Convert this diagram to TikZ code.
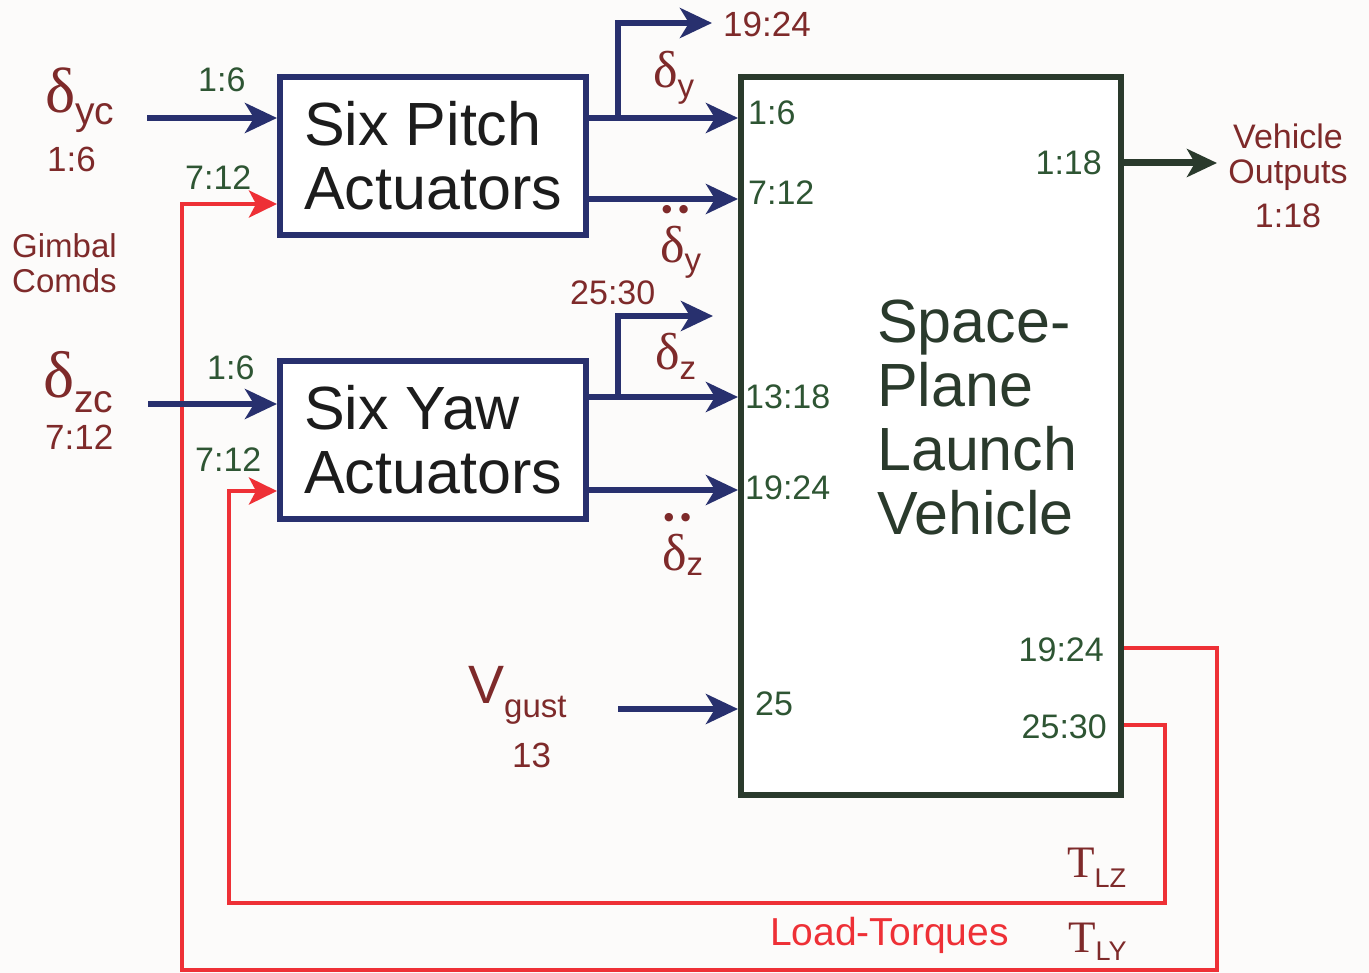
\documentclass[tikz,border=0pt]{standalone}
\usepackage{fontspec}
\setmainfont{Liberation Sans}
\newfontfamily\grk{Liberation Serif}
\newfontfamily\dvs{DejaVu Sans}
\usetikzlibrary{arrows.meta}
\definecolor{navy}{HTML}{28306E}
\definecolor{lred}{HTML}{EE3036}
\definecolor{brn}{HTML}{7E2A2A}
\definecolor{grn}{HTML}{2E5533}
\definecolor{vgrn}{HTML}{2A3A2C}
\definecolor{txtblk}{HTML}{1C1C1C}
\definecolor{bgc}{HTML}{FCFBFA}
\begin{document}
\begin{tikzpicture}[x=1pt,y=-1pt,
  actbox/.style={draw=navy,line width=6pt,fill=white,minimum width=306pt,minimum height=158pt,inner sep=0pt,align=left,text=txtblk,font=\fontsize{61}{64}\selectfont},
  vehbox/.style={draw=vgrn,line width=6pt,fill=white,minimum width=380pt,minimum height=718pt,inner sep=0pt},
  navyarr/.style={draw=navy,line width=6pt,-{Stealth[length=32pt,width=30pt,inset=9pt]}},
  redarr/.style={draw=lred,line width=4.5pt,-{Stealth[length=28pt,width=27pt,inset=7pt]}},
  outarr/.style={draw=vgrn,line width=7pt,-{Stealth[length=30pt,width=28pt,inset=8pt]}},
  lbl/.style={inner sep=0pt,anchor=base west},
  glbl/.style={lbl,text=grn,font=\fontsize{34}{38}\selectfont},
  gelbl/.style={inner sep=0pt,anchor=base east,text=grn,font=\fontsize{34}{38}\selectfont},
  blbl/.style={lbl,text=brn,font=\fontsize{35}{38}\selectfont},
]
\fill[bgc] (0,0) rectangle (1369,973);
\useasboundingbox (0,0) rectangle (1369,973);

% blocks
\node[vehbox] (veh) at (931,436) {};
\node[actbox] (pitch) at (433,156) {Six Pitch\\Actuators};
\node[actbox] (yaw) at (433,440) {Six Yaw\\Actuators};
\node[inner sep=0pt,anchor=west,align=left,text=vgrn,font=\fontsize{61}{64}\selectfont] (vtxt) at (877,418) {Space-\\Plane\\Launch\\Vehicle};

% coordinates
\coordinate (dycS) at (147,118);
\coordinate (dzcS) at (148,404);
\coordinate (bP) at (618,118);
\coordinate (tP) at (712,23);
\coordinate (bY) at (618,397);
\coordinate (tY) at (713,316);
\coordinate (vgS) at (618,709);
\coordinate (voT) at (1217,163);
\coordinate (oR) at (1217,970);
\coordinate (oL) at (182,970);
\coordinate (iR) at (1165,903);
\coordinate (iL) at (229,903);

% load torque feedback
\draw[redarr] (veh.east |- 0,648) -| (oR) -- (oL) |- (pitch.west |- 0,204);
\draw[redarr] (veh.east |- 0,725) -| (iR) -- (iL) |- (yaw.west |- 0,491);

% signal arrows
\draw[navyarr] (dycS) -- (dycS -| pitch.west);
\draw[navyarr] (dzcS) -- (dzcS -| yaw.west);
\draw[navyarr] (pitch.east |- bP) -- (bP -| veh.west);
\draw[navyarr] (bP) |- (tP);
\draw[navyarr] (pitch.east |- 0,199) -- (veh.west |- 0,199);
\draw[navyarr] (yaw.east |- bY) -- (bY -| veh.west);
\draw[navyarr] (bY) |- (tY);
\draw[navyarr] (yaw.east |- 0,490) -- (veh.west |- 0,490);
\draw[navyarr] (vgS) -- (vgS -| veh.west);
\draw[outarr] (veh.east |- voT) -- (voT);

% green port labels
\node[glbl] (l1) at (198,92) {1:6};
\node[glbl] (l2) at (185,190) {7:12};
\node[glbl] (l3) at (207,380) {1:6};
\node[glbl] (l4) at (195,472) {7:12};
\node[glbl] (v1) at (748,125) {1:6};
\node[glbl] (v2) at (748,205) {7:12};
\node[glbl] (v3) at (745,409) {13:18};
\node[glbl] (v4) at (745,500) {19:24};
\node[glbl] (v5) at (755,715) {25};
\node[gelbl] (o1) at (1102,175) {1:18};
\node[gelbl] (o2) at (1104,661) {19:24};
\node[gelbl] (o3) at (1107,738) {25:30};

% signal names
\node[lbl,text=brn] (dyc) at (45,113) {{\grk\fontsize{64}{64}\selectfont δ}\raisebox{-12pt}{\fontsize{39}{39}\selectfont yc}};
\node[blbl] (dycn) at (47,172) {1:6};
\node[lbl,text=brn] (dzc) at (43,398) {{\grk\fontsize{66}{66}\selectfont δ}\raisebox{-15pt}{\fontsize{39}{39}\selectfont zc}};
\node[blbl] (dzcn) at (45,450) {7:12};
\node[inner sep=0pt,anchor=west,align=left,text=brn,font=\fontsize{33}{35}\selectfont] (gim) at (12,263) {Gimbal\\Comds};

\node[lbl,text=brn] (dy) at (653,88) {{\grk\fontsize{52}{52}\selectfont δ}\raisebox{-10pt}{\fontsize{33}{33}\selectfont y}};
\node[lbl,text=brn] (ddy) at (660,263) {\rlap{\raisebox{50pt}{\hspace{2pt}\dvs\fontsize{11}{11}\selectfont ●\hspace{7pt}●}}{\grk\fontsize{52}{52}\selectfont δ}\raisebox{-9pt}{\fontsize{33}{33}\selectfont y}};
\node[lbl,text=brn] (dz) at (655,370) {{\grk\fontsize{52}{52}\selectfont δ}\raisebox{-10pt}{\fontsize{33}{33}\selectfont z}};
\node[lbl,text=brn] (ddz) at (662,570) {\rlap{\raisebox{50pt}{\hspace{2pt}\dvs\fontsize{11}{11}\selectfont ●\hspace{7pt}●}}{\grk\fontsize{52}{52}\selectfont δ}\raisebox{-5pt}{\fontsize{33}{33}\selectfont z}};
\node[blbl] (r1924) at (723,37) {19:24};
\node[blbl,font=\fontsize{34}{38}\selectfont] (r2530) at (570,305) {25:30};

\node[lbl,text=brn] (vgust) at (468,703) {{\fontsize{54}{54}\selectfont V}\raisebox{-14pt}{\fontsize{33}{33}\selectfont gust}};
\node[blbl] (v13) at (512,767) {13};

\node[inner sep=0pt,align=center,text=brn,font=\fontsize{34}{35}\selectfont] (vout) at (1288,176) {Vehicle\\Outputs\\[9pt]1:18};

\node[lbl,text=brn] (tlz) at (1067,877) {{\grk\fontsize{45}{45}\selectfont T}\raisebox{-10pt}{\fontsize{27}{27}\selectfont LZ}};
\node[lbl,text=brn] (tly) at (1068,952) {{\grk\fontsize{45}{45}\selectfont T}\raisebox{-8pt}{\fontsize{27}{27}\selectfont LY}};
\node[lbl,text=lred,font=\fontsize{39}{40}\selectfont] (lt) at (770,945) {Load-Torques};
\end{tikzpicture}
\end{document}
